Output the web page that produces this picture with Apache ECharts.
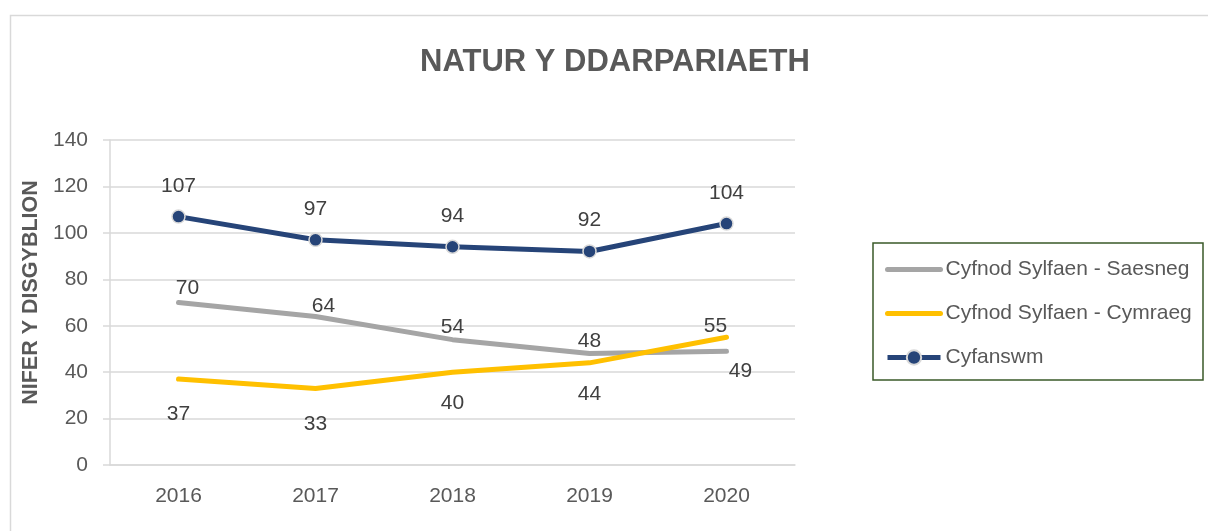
<!DOCTYPE html>
<html>
<head>
<meta charset="utf-8">
<script src="https://cdn.jsdelivr.net/npm/echarts@6/dist/echarts.min.js"></script>
<style>
html, body { margin: 0; padding: 0; background: #fff; }
#chart { width: 1208px; height: 531px; }
</style>
</head>
<body>
<div id="chart"></div>
<script>
const years = ['2016', '2017', '2018', '2019', '2020']
const saesneg = [70, 64, 54, 48, 49]
const cymraeg = [37, 33, 40, 44, 55]
const cyfanswm = [107, 97, 94, 92, 104]

// shift of each data label from its default spot above the point (style only)
const saesnegLabel = [[9, -3], [8, 1], [0, -1], [0, -1], [14, 31]]
const cymraegLabel = [[0, 46], [0, 47], [0, 42], [0, 42], [-11, 0]]

const font = 'Liberation Sans, Arial, sans-serif'

// invisible points that only carry the data labels of a line
function labelSeries(values, offsets) {
    return {
        type: 'scatter',
        data: values.map((v, i) => ({
            value: v,
            label: {offset: offsets[i]}
        })),
        symbolSize: 1,
        itemStyle: {color: 'transparent', opacity: 1},
        silent: true,
        z: 5,
        label: {show: true, position: 'top', distance: 0, fontSize: 21, color: '#404040'}
    }
}

let chart = echarts.init(document.getElementById('chart'))
let option = {
    animation: false,
    textStyle: {fontFamily: font},
    title: {
        text: 'NATUR Y DDARPARIAETH',
        left: 415,
        top: 42,
        textStyle: {fontSize: 31, fontWeight: 'bold', color: '#595959', fontFamily: font}
    },
    graphic: [
        {
            type: 'rect',
            shape: {x: 10.5, y: 15.5, width: 1210, height: 540},
            style: {fill: 'none', stroke: '#d9d9d9', lineWidth: 1.5},
            silent: true
        },
        {
            type: 'rect',
            shape: {x: 873, y: 243, width: 330, height: 137},
            style: {fill: 'none', stroke: '#3a5a28', lineWidth: 1.5},
            silent: true
        }
    ],
    legend: {
        orient: 'vertical',
        left: 873,
        top: 243,
        padding: [16, 12, 12, 12],
        itemGap: 23,
        itemWidth: 53,
        itemHeight: 18,
        lineStyle: {width: 5},
        textStyle: {fontSize: 21, color: '#595959', lineHeight: 20},
        data: [
            {name: 'Cyfnod Sylfaen - Saesneg', itemStyle: {opacity: 0}},
            {name: 'Cyfnod Sylfaen - Cymraeg', itemStyle: {opacity: 0}},
            {name: 'Cyfanswm'}
        ]
    },
    grid: {left: 110, right: 413, top: 140, bottom: 66},
    xAxis: {
        type: 'category',
        data: years,
        boundaryGap: true,
        axisLine: {lineStyle: {color: '#d9d9d9', width: 1.5}},
        axisTick: {show: false},
        axisLabel: {fontSize: 21, color: '#595959', margin: 21}
    },
    yAxis: {
        type: 'value',
        min: 0,
        max: 140,
        interval: 20,
        name: 'NIFER Y DISGYBLION',
        nameLocation: 'middle',
        nameGap: 62,
        nameRotate: 90,
        nameTextStyle: {fontSize: 21.5, fontWeight: 'bold', color: '#595959', padding: [0, 0, 0, 20]},
        axisLine: {show: true, lineStyle: {color: '#d9d9d9', width: 1.5}},
        axisTick: {show: true, length: 7, lineStyle: {color: '#d9d9d9', width: 1.5}},
        splitLine: {lineStyle: {color: '#d9d9d9', width: 1.5}},
        axisLabel: {fontSize: 21, color: '#595959', margin: 22}
    },
    series: [
        {
            name: 'Cyfnod Sylfaen - Saesneg',
            type: 'line',
            data: saesneg,
            symbol: 'none',
            lineStyle: {color: '#a5a5a5', width: 5, cap: 'round'},
            itemStyle: {color: '#a5a5a5'}
        },
        {
            name: 'Cyfnod Sylfaen - Cymraeg',
            type: 'line',
            data: cymraeg,
            symbol: 'none',
            lineStyle: {color: '#ffc000', width: 5, cap: 'round'},
            itemStyle: {color: '#ffc000'}
        },
        {
            name: 'Cyfanswm',
            type: 'line',
            data: cyfanswm,
            symbol: 'circle',
            symbolSize: 13,
            lineStyle: {color: '#264478', width: 5},
            itemStyle: {color: '#264478', borderColor: '#d9d9d9', borderWidth: 1.5},
            label: {show: true, position: 'top', distance: 13, fontSize: 21, color: '#404040'}
        },
        labelSeries(saesneg, saesnegLabel),
        labelSeries(cymraeg, cymraegLabel)
    ]
}
chart.setOption(option)
</script>
</body>
</html>
